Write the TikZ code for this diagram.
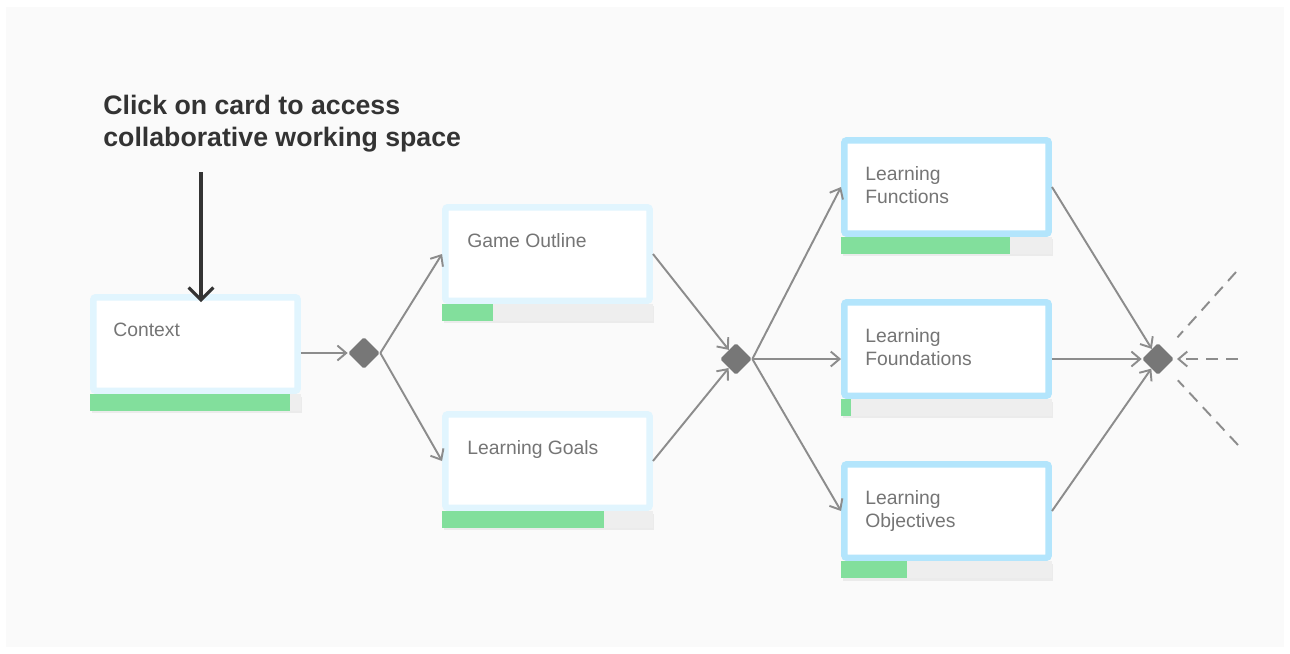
\documentclass[tikz,border=0pt]{standalone}
\usepackage{fontspec}
\setmainfont{Liberation Sans}
\usetikzlibrary{shapes.geometric,arrows.meta,shadows}
\definecolor{bgpanel}{HTML}{FAFAFA}
\definecolor{paleframe}{HTML}{E1F5FE}
\definecolor{skyframe}{HTML}{B3E5FC}
\definecolor{barbase}{HTML}{EEEEEE}
\definecolor{bardone}{HTML}{82DF9C}
\definecolor{cardtext}{HTML}{757575}
\definecolor{headtext}{HTML}{333333}
\definecolor{wire}{HTML}{8C8C8C}
\definecolor{gatefill}{HTML}{777777}

\begin{document}
\begin{tikzpicture}[x=0.02cm,y=-0.02cm,
  card/.style={rectangle,fill=white,line width=0.13cm,minimum width=4.09cm,
    minimum height=1.87cm,inner sep=0pt,outer sep=0.065cm,rounded corners=1.5pt,
    drop shadow={opacity=0.12,shadow xshift=0.03cm,shadow yshift=-0.05cm}},
  pale/.style={card,draw=paleframe},
  sky/.style={card,draw=skyframe},
  bar/.style={rectangle,fill=barbase,minimum width=4.22cm,minimum height=0.34cm,
    inner sep=0pt,outer sep=0pt,anchor=north west,
    drop shadow={opacity=0.12,shadow xshift=0.03cm,shadow yshift=-0.05cm}},
  done/.style={fill=bardone},
  lbl/.style={anchor=north west,inner sep=0pt,align=left,text=cardtext,
    font=\fontsize{11}{13.3}\selectfont},
  gate/.style={diamond,fill=gatefill,minimum size=0.64cm,inner sep=0pt,
    rounded corners=1pt},
  flow/.style={draw=wire,line width=1.1pt,-{Straight Barb[length=5pt,width=8.5pt]}},
  loose/.style={draw=wire,line width=1.1pt,dash pattern=on 6.8pt off 4.5pt},
  pointer/.style={draw=headtext,line width=1.8pt,
    -{Straight Barb[length=7pt,width=14pt]}}]

  \useasboundingbox (0,0) rectangle (1290,653);
  \fill[bgpanel] (6,7) rectangle (1284,647);

  \node[anchor=north west,inner sep=0pt,align=left,text=headtext,
    font=\fontsize{15.2}{18.2}\selectfont\bfseries]
  (title) at (103,95) {Click on card to access\\collaborative working space};

  \node[pale] (ctx) at (195.5,344) {};
  \node[bar] (ctxbar) at (ctx.south west) {};
  \fill[done] (ctxbar.north west) rectangle ++(200,17);
  \node[lbl] (ctxlbl) at (113,323) {Context};

  \node[pale] (gout) at (547.5,254) {};
  \node[bar] (goutbar) at (gout.south west) {};
  \fill[done] (goutbar.north west) rectangle ++(51,17);
  \node[lbl] (goutlbl) at (467,233) {Game Outline};

  \node[pale] (lgoal) at (547.5,461) {};
  \node[bar] (lgoalbar) at (lgoal.south west) {};
  \fill[done] (lgoalbar.north west) rectangle ++(162,17);
  \node[lbl] (lgoallbl) at (467,440) {Learning Goals};

  \node[sky] (lfun) at (946.5,187) {};
  \node[bar] (lfunbar) at (lfun.south west) {};
  \fill[done] (lfunbar.north west) rectangle ++(169,17);
  \node[lbl] (lfunlbl) at (865,166) {Learning\\Functions};

  \node[sky] (lfound) at (946.5,349) {};
  \node[bar] (lfoundbar) at (lfound.south west) {};
  \fill[done] (lfoundbar.north west) rectangle ++(10,17);
  \node[lbl] (lfoundlbl) at (865,328) {Learning\\Foundations};

  \node[sky] (lobj) at (946.5,511) {};
  \node[bar] (lobjbar) at (lobj.south west) {};
  \fill[done] (lobjbar.north west) rectangle ++(66,17);
  \node[lbl] (lobjlbl) at (865,490) {Learning\\Objectives};

  \node[gate] (g1) at (364,353) {};
  \node[gate] (g2) at (736,359) {};
  \node[gate] (g3) at (1158,359) {};

  \coordinate (tail) at (201,172);
  \coordinate (tip) at (201,302);
  \coordinate (out1) at (1236,272);
  \coordinate (out2) at (1238,359);
  \coordinate (out3) at (1238,445);

  \draw[pointer] (tail) -- (tip);

  \draw[flow] (ctx.east |- g1) -- (g1);
  \draw[flow] (g1.east) -- (gout.west);
  \draw[flow] (g1.east) -- (lgoal.west);
  \draw[flow] (gout.east) -- (g2);
  \draw[flow] (lgoal.east) -- (g2);
  \draw[flow] (g2.east) -- (lfun.west);
  \draw[flow] (g2.east) -- (lfound.west |- g2);
  \draw[flow] (g2.east) -- (lobj.west);
  \draw[flow] (lfun.east) -- (g3);
  \draw[flow] (lfound.east |- g3) -- (g3);
  \draw[flow] (lobj.east) -- (g3);
  \draw[loose,shorten >=10pt] (out1) -- (g3);
  \draw[loose,-{Straight Barb[length=5pt,width=8.5pt]},shorten >=1.5pt] (out2) -- (g3);
  \draw[loose,shorten >=10pt] (out3) -- (g3);
\end{tikzpicture}
\end{document}
